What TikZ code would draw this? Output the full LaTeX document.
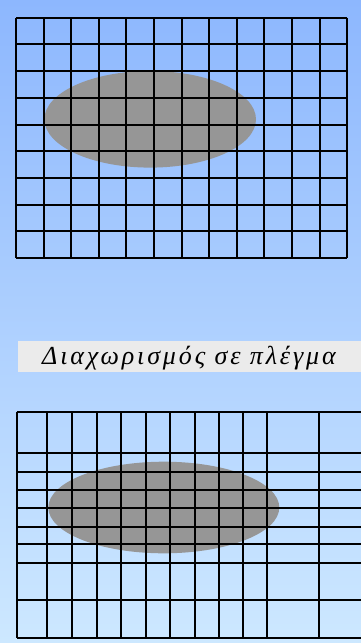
\documentclass[tikz,border=0pt]{standalone}
\usepackage{fontspec}
\newfontfamily\grfont[LetterSpace=11]{Liberation Serif}
\begin{document}
\begin{tikzpicture}[x=1pt,y=-1pt,
  gridline/.style={line width=2pt,black},
  blob/.style={fill=black!41}]
\useasboundingbox (0,0) rectangle (361,643);
\shade[top color={rgb,255:red,141;green,183;blue,254},bottom color={rgb,255:red,205;green,232;blue,255}] (0,0) rectangle (361,643);
% top grid
\fill[blob] (150.2,119.3) ellipse [x radius=105.8,y radius=48.3];
\foreach \x in {16,43.6,71.2,98.8,126.4,154,181.6,209.2,236.8,264.4,292,319.6,347.2}
  \draw[gridline] (\x,17.7) -- (\x,258.3);
\foreach \y in {17.7,44.4,71.1,97.8,124.5,151.2,177.9,204.6,231.3,258.3}
  \draw[gridline] (16,\y) -- (347.2,\y);
% label
\fill[fill={rgb,255:red,235;green,235;blue,235}] (17.7,341) rectangle (361,372.3);
\node[anchor=base west,inner sep=0pt,font=\grfont\itshape\fontsize{26}{28}\selectfont] (lbl) at (42,364.7) {Διαχωρισμός σε πλέγμα};
% bottom grid
\fill[blob] (163.8,507.5) ellipse [x radius=115.5,y radius=45.8];
\foreach \x in {16.7,47,72,96.7,121,145.7,170,194.7,219,243.3,267.3,319.3}
  \draw[gridline] (\x,412.3) -- (\x,638.3);
\foreach \y in {412.3,453.3,471.7,490,508,526.7,544.3,562.7,600,638.3}
  \draw[gridline] (16.7,\y) -- (375,\y);
\end{tikzpicture}
\end{document}
